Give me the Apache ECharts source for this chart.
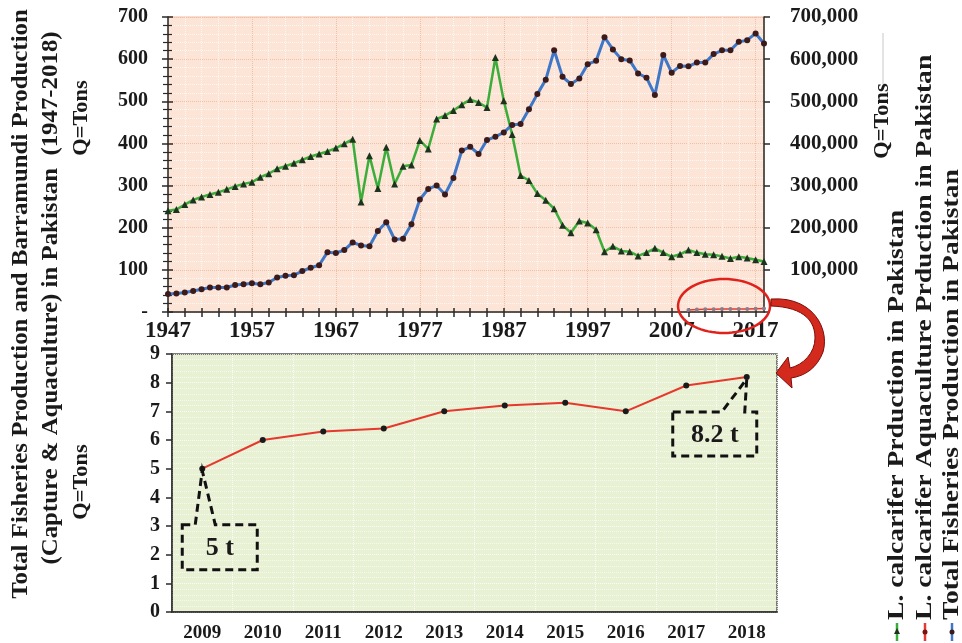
<!DOCTYPE html>
<html><head><meta charset="utf-8">
<script src="https://cdn.jsdelivr.net/npm/echarts@6/dist/echarts.min.js"></script>
<style>html,body{margin:0;padding:0;background:#fff}#c{width:962px;height:643px}</style>
</head><body><div id="c"></div>
<script>
// ---- data ----
const years = ['1947','1948','1949','1950','1951','1952','1953','1954','1955','1956','1957','1958','1959','1960','1961','1962','1963','1964','1965','1966','1967','1968','1969','1970','1971','1972','1973','1974','1975','1976','1977','1978','1979','1980','1981','1982','1983','1984','1985','1986','1987','1988','1989','1990','1991','1992','1993','1994','1995','1996','1997','1998','1999','2000','2001','2002','2003','2004','2005','2006','2007','2008','2009','2010','2011','2012','2013','2014','2015','2016','2017','2018'];
// L. calcarifer production (tons, left axis)
const calcarifer = [240,243,255,266,273,279,284,291,298,304,308,320,328,340,346,353,361,369,375,381,389,399,410,
  261,371,293,391,304,346,349,407,387,458,466,478,492,504,497,485,604,501,421,324,312,281,265,245,206,188,216,211,195,
  143,156,145,143,133,141,151,141,131,137,147,141,137,136,132,127,131,128,124,120];
// Total fisheries production (tons, right axis)
const totalFish = [42500,44000,46500,50000,54000,58000,58000,58000,64000,66000,68000,66000,70000,82000,86000,87500,97000,105000,111000,142000,140000,147000,165000,
  158000,156000,192000,213000,172000,174000,208000,267000,292000,300000,279000,318000,383000,392000,375000,408000,416000,426000,444000,446000,481000,517000,551000,621000,558000,541000,554000,588000,596000,
  652000,623000,600000,597000,566000,556000,515000,610000,568000,584000,583000,592000,592000,612000,621000,621000,641000,645000,661000,637000];
// L. calcarifer aquaculture production (tons)
const aquaYears = ['2009','2010','2011','2012','2013','2014','2015','2016','2017','2018'];
const aquaculture = [5.0,6.0,6.3,6.4,7.0,7.2,7.3,7.0,7.9,8.2];
const leftTicks = ['-','100','200','300','400','500','600','700'];

const FONT = '"Liberation Serif","Times New Roman",serif';
const aquaTop = years.map(y => { const i = aquaYears.indexOf(y); return i >= 0 ? aquaculture[i] : null; });

const chart = echarts.init(document.getElementById('c'), null, {renderer:'canvas'});
const lbl = (size, extra) => Object.assign({color:'#1a1a1a', fontFamily:FONT, fontWeight:'bold', fontSize:size}, extra||{});

chart.setOption({
  animation:false,
  backgroundColor:'#ffffff',
  grid:[
    {left:168, top:17, width:596, height:295, show:true, backgroundColor:'#fce4d6', borderColor:'#f3bca0', borderWidth:1},
    {left:172, top:354, width:605, height:258, show:true, backgroundColor:'#e9f1d5', borderColor:'#555', borderWidth:1.5}
  ],
  xAxis:[
    {type:'category', gridIndex:0, data:years, boundaryGap:false,
     axisLine:{lineStyle:{color:'#2a2a2a', width:1.5}},
     axisTick:{interval:(i)=>i%2===0, length:5, lineStyle:{color:'#2a2a2a', width:1.5}},
     axisLabel:lbl(23,{interval:(i)=>i%10===0, margin:8}),
     splitLine:{show:true, interval:(i)=>i%2===0, lineStyle:{color:'rgba(255,255,255,0.75)', type:'dotted', width:1}}},
    {type:'category', gridIndex:0, data:years, boundaryGap:false, position:'bottom',
     axisLine:{show:false},
     axisTick:{inside:true, interval:(i)=>i%2===0, length:4, lineStyle:{color:'#2a2a2a', width:1.5}},
     axisLabel:{show:false},
     splitLine:{show:true, interval:(i)=>i%10===0, lineStyle:{color:'#efc0a6', type:'dotted', width:1}}},
    {type:'category', gridIndex:1, data:aquaYears, boundaryGap:true,
     axisLine:{lineStyle:{color:'#2a2a2a', width:1.5}},
     axisTick:{alignWithLabel:true, length:6, lineStyle:{color:'#2a2a2a', width:1.5}},
     axisLabel:lbl(19,{margin:12}),
     splitLine:{show:true, lineStyle:{color:'rgba(255,255,255,0.8)', type:'dotted'}}}
  ],
  yAxis:[
    {type:'value', gridIndex:0, min:0, max:700, interval:100, position:'left',
     axisLine:{show:true, lineStyle:{color:'#2a2a2a', width:1.5}},
     axisTick:{show:true, length:6, lineStyle:{color:'#2a2a2a', width:1.5}},
     minorTick:{show:true, splitNumber:5, length:5, lineStyle:{color:'#2a2a2a', width:1.2}},
     axisLabel:lbl(20,{margin:20, formatter:(v)=>leftTicks[Math.round(v/100)]}),
     splitLine:{show:true, lineStyle:{color:'#efc0a6', type:'dotted'}},
     minorSplitLine:{show:true, lineStyle:{color:'rgba(255,255,255,0.7)', type:'dotted'}}},
    {type:'value', gridIndex:0, min:0, max:700000, interval:100000, position:'right',
     axisLine:{show:true, lineStyle:{color:'#2a2a2a', width:1.5}},
     axisTick:{show:true, length:6, lineStyle:{color:'#2a2a2a', width:1.5}},
     axisLabel:lbl(21,{margin:26, formatter:(v)=> v===0 ? '' : v.toLocaleString('en-US')}),
     splitLine:{show:false}},
    {type:'value', gridIndex:0, min:0, max:700, interval:100, position:'left',
     axisLine:{show:false},
     axisTick:{show:true, inside:true, length:5, lineStyle:{color:'#2a2a2a', width:1.5}},
     minorTick:{show:true, splitNumber:5, length:4, lineStyle:{color:'#2a2a2a', width:1.2}},
     axisLabel:{show:false}, splitLine:{show:false}},
    {type:'value', gridIndex:1, min:0, max:9, interval:1,
     axisLine:{show:true, lineStyle:{color:'#2a2a2a', width:1.5}},
     axisTick:{show:true, length:6, lineStyle:{color:'#2a2a2a', width:1.5}},
     axisLabel:lbl(20,{margin:12}),
     splitLine:{show:true, lineStyle:{color:'rgba(255,255,255,0.8)', type:'dotted'}},
     minorSplitLine:{show:true, lineStyle:{color:'rgba(255,255,255,0.6)', type:'dotted'}}}
  ],
  series:[
    {name:'L. calcarifer Prduction in Pakistan', type:'line', xAxisIndex:0, yAxisIndex:0, data:calcarifer,
     symbol:'triangle', symbolSize:7, showAllSymbol:true, itemStyle:{color:'#1d331d'},
     lineStyle:{color:'#3aad3a', width:2.5}, z:3},
    {name:'Total Fisheries Production in Pakistan', type:'line', xAxisIndex:0, yAxisIndex:1, data:totalFish,
     symbol:'circle', symbolSize:6, showAllSymbol:true, itemStyle:{color:'#3c1a1a'},
     lineStyle:{color:'#3e77c8', width:3}, z:3},
    {name:'L. calcarifer Aquaculture Prduction in Pakistan', type:'line', xAxisIndex:0, yAxisIndex:0, data:aquaTop,
     symbol:'circle', symbolSize:4, showAllSymbol:true, itemStyle:{color:'#8c7c8c'},
     lineStyle:{color:'#e33b30', width:1.5}, z:4},
    {name:'Aquaculture detail', type:'line', xAxisIndex:2, yAxisIndex:3, data:aquaculture,
     symbol:'circle', symbolSize:6, itemStyle:{color:'#1a1a1a'},
     lineStyle:{color:'#e6382d', width:2}, z:3}
  ]
});

// ---- annotations ----
function bez(p0,p1,p2,p3,n){const out=[];for(let k=1;k<=n;k++){const t=k/n,u=1-t;out.push([u*u*u*p0[0]+3*u*u*t*p1[0]+3*u*t*t*p2[0]+t*t*t*p3[0],u*u*u*p0[1]+3*u*u*t*p1[1]+3*u*t*t*p2[1]+t*t*t*p3[1]]);}return out;}
const g = [];
const rot = Math.PI/2;
const vtext = (x,y,text,size,align,sx) => ({type:'text', x:x, y:y, rotation:rot, scaleX:sx||1, z:50,
  style:{text:text, font:'bold '+size+'px '+FONT, fill:'#1a1a1a', align:align||'center', textAlign:align||'center', verticalAlign:'middle', textVerticalAlign:'middle'}});
g.push(vtext(21,304,'Total Fisheries Production and Barramundi Production',23,'center',1.08));
g.push(vtext(51,298,'(Capture & Aquaculture) in Pakistan  (1947-2018)',23,'center',1.08));
g.push(vtext(82,118,'Q=Tons',20,'center',1.12));
g.push(vtext(82,482,'Q=Tons',20,'center',1.12));
g.push(vtext(883,121,'Q=Tons',20,'center',1.12));
g.push({type:'line', shape:{x1:883,y1:33,x2:883,y2:84}, style:{stroke:'#c8c8c8', lineWidth:1}});
// legend
const leg = [
  {x:897, text:'L. calcarifer Prduction in Pakistan', line:'#3aad3a', mk:'#1d331d', tri:true},
  {x:925, text:'L. calcarifer Aquaculture Prduction in Pakistan', line:'#e33b30', mk:'#7a1010', tri:false},
  {x:952, text:'Total Fisheries Production in Pakistan', line:'#3e77c8', mk:'#3c1a1a', tri:false}
];
leg.forEach(l=>{
  g.push({type:'line', shape:{x1:l.x,y1:623,x2:l.x,y2:641}, style:{stroke:l.line, lineWidth:2.5}});
  if(l.tri) g.push({type:'polygon', shape:{points:[[l.x,628],[l.x-3,634],[l.x+3,634]]}, style:{fill:l.mk}});
  else g.push({type:'circle', shape:{cx:l.x, cy:632, r:2.5}, style:{fill:l.mk}});
  g.push(vtext(l.x,620,l.text,23,'left',1.2));
});
// red ellipse around aquaculture points in top chart
const pc = chart.convertToPixel({xAxisIndex:0, yAxisIndex:0}, ['2013', 0]);
const ecx = pc[0]+2, ecy = pc[1]-6, erx = 46, ery = 27;
const ell=[]; for(let k=0;k<72;k++){const a=k/72*2*Math.PI; ell.push([ecx+erx*Math.cos(a), ecy+ery*Math.sin(a)]);}
g.push({type:'polygon', shape:{points:ell}, style:{fill:'none', stroke:'#e0221c', lineWidth:2.5}, z:60});
// curved arrow
const ox = ecx+erx-770, oy = ecy-306;
const P = (x,y)=>[x+ox,y+oy];
let arrow = [P(771,299)];
arrow = arrow.concat(bez(P(771,299),P(812,296),P(830,328),P(823,352),14));
arrow = arrow.concat(bez(P(823,352),P(817,368),P(805,376),P(791,378),8));
arrow.push(P(792,388),P(776,373),P(788,357),P(790,368));
arrow = arrow.concat(bez(P(790,368),P(803,365),P(815,353),P(815,338),8));
arrow = arrow.concat(bez(P(815,338),P(815,318),P(800,307),P(771,306),14));
g.push({type:'polygon', shape:{points:arrow}, style:{fill:'#d42a1e', stroke:'#7a0c08', lineWidth:1}, z:61});
// callouts
function callout(tip, L, R, T, B, b1, b2, text, size){
  const pts=[[L,T],[b1,T],[tip[0],tip[1]+2],[b2,T],[R,T],[R,B],[L,B]];
  g.push({type:'polygon', shape:{points:pts}, style:{fill:'none', stroke:'#111', lineWidth:3, lineDash:[8,5]}, z:55});
  g.push({type:'text', x:(L+R)/2, y:(T+B)/2+1, z:56, style:{text:text, font:'bold '+size+'px '+FONT, fill:'#1a1a1a', align:'center', textAlign:'center', verticalAlign:'middle', textVerticalAlign:'middle'}});
}
const t1 = chart.convertToPixel({xAxisIndex:2, yAxisIndex:3}, [aquaYears[0], aquaculture[0]]);
callout(t1, t1[0]-20, t1[0]+55, t1[1]+56, t1[1]+101, t1[0]-7, t1[0]+13, '5 t', 26);
const t2 = chart.convertToPixel({xAxisIndex:2, yAxisIndex:3}, [aquaYears[9], aquaculture[9]]);
callout(t2, t2[0]-74, t2[0]+10, t2[1]+35, t2[1]+79, t2[0]-25, t2[0]-2, '8.2 t', 26);
chart.setOption({graphic:{elements:g}});
</script></body></html>
